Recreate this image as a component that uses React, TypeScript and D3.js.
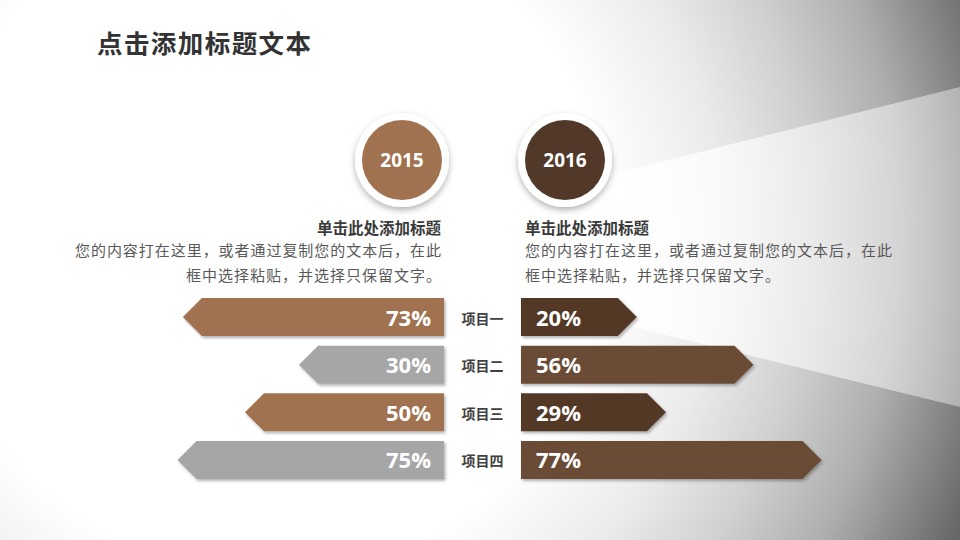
import React from "react";
import * as d3 from "d3";

const categories = ["项目一", "项目二", "项目三", "项目四"];
const years = ["2015", "2016"];
const values2015 = [73, 30, 50, 75];
const values2016 = [20, 56, 29, 77];
const mainTitle = "点击添加标题文本";
const blockTitle = "单击此处添加标题";
const blockLines = ["您的内容打在这里，或者通过复制您的文本后，在此", "框中选择粘贴，并选择只保留文字。"];

const W = 960;
const H = 540;
const leftEdge = 444;
const rightEdge = 521;
const tipDepth = 19;

const leftColors = ["#A07250", "#A6A6A6"];
const rightColors = ["#523828", "#6A4C34"];
const yearColors = ["#A07250", "#523828"];

const CJK = "'Noto Sans CJK SC', 'Microsoft YaHei', sans-serif";
const LAT = "'Open Sans', 'Noto Sans', sans-serif";

export default function App() {
  const y = d3.scaleBand<string>().domain(categories).range([298, 479]).paddingInner(0.2).paddingOuter(0);
  const lenL = d3.scaleLinear().domain([0, 100]).range([64, 334]);
  const lenR = d3.scaleLinear().domain([0, 100]).range([51, 375]);
  const xYear = d3.scalePoint<string>().domain(years).range([402, 565]);
  const line = d3.line();

  const leftPath = (c: string, v: number) => {
    const y0 = y(c)!;
    const y1 = y0 + y.bandwidth();
    const ym = (y0 + y1) / 2;
    const xt = leftEdge - lenL(v);
    const xb = xt + tipDepth;
    return line([[leftEdge, y0], [xb, y0], [xt, ym], [xb, y1], [leftEdge, y1]]) + "Z";
  };
  const rightPath = (c: string, v: number) => {
    const y0 = y(c)!;
    const y1 = y0 + y.bandwidth();
    const ym = (y0 + y1) / 2;
    const xt = rightEdge + lenR(v);
    const xb = xt - tipDepth;
    return line([[rightEdge, y0], [xb, y0], [xt, ym], [xb, y1], [rightEdge, y1]]) + "Z";
  };

  return (
    <div style={{ position: "absolute", left: 0, top: 0, width: W, height: H }}>
      <svg width={W} height={H} viewBox={`0 0 ${W} ${H}`} style={{ display: "block" }}>
        <defs>
          <radialGradient id="bg" gradientUnits="userSpaceOnUse" cx={270} cy={235} r={750}>
            <stop offset="0" stopColor="#ffffff" />
            <stop offset="0.45" stopColor="#ffffff" />
            <stop offset="0.6" stopColor="#ebebeb" />
            <stop offset="0.72" stopColor="#d0d0d0" />
            <stop offset="0.84" stopColor="#aeaeae" />
            <stop offset="1" stopColor="#666666" />
          </radialGradient>
          <linearGradient id="beam" gradientUnits="userSpaceOnUse" x1={600} y1={0} x2={960} y2={0}>
            <stop offset="0" stopColor="#ffffff" stopOpacity={0.95} />
            <stop offset="0.5" stopColor="#ffffff" stopOpacity={0.6} />
            <stop offset="1" stopColor="#ffffff" stopOpacity={0.4} />
          </linearGradient>
          <filter id="barShadow" x="-10%" y="-30%" width="120%" height="170%">
            <feDropShadow dx={1.5} dy={2} stdDeviation={1.5} floodColor="#000" floodOpacity={0.3} />
          </filter>
          <filter id="circShadow" x="-30%" y="-30%" width="160%" height="170%">
            <feDropShadow dx={0} dy={3} stdDeviation={3} floodColor="#000" floodOpacity={0.3} />
          </filter>
        </defs>

        <rect x={0} y={0} width={W} height={H} fill="url(#bg)" />
        <polygon points="600,177 960,87 960,407 600,319" fill="url(#beam)" />

        <text x={97} y={53} fontFamily={CJK} fontWeight={700} fontSize={25.5} fill="#333333" textLength={214} lengthAdjust="spacing">
          {mainTitle}
        </text>

        {years.map((yr, i) => (
          <g key={yr}>
            <circle cx={xYear(yr)} cy={160} r={47} fill="#ffffff" filter="url(#circShadow)" />
            <circle cx={xYear(yr)} cy={160} r={40} fill={yearColors[i]} />
            <text x={xYear(yr)} y={166.5} textAnchor="middle" fontFamily={LAT} fontWeight={700} fontSize={19} fill="#ffffff">
              {yr}
            </text>
          </g>
        ))}

        <g fontFamily={CJK}>
          <text x={441} y={233.5} textAnchor="end" fontWeight={700} fontSize={15.5} fill="#3a3a3a">{blockTitle}</text>
          <text x={441} y={255.5} textAnchor="end" fontSize={15} fill="#595959" textLength={366} lengthAdjust="spacing">{blockLines[0]}</text>
          <text x={441} y={281} textAnchor="end" fontSize={15} fill="#595959" textLength={255} lengthAdjust="spacing">{blockLines[1]}</text>
          <text x={525} y={233.5} fontWeight={700} fontSize={15.5} fill="#3a3a3a">{blockTitle}</text>
          <text x={525} y={255.5} fontSize={15} fill="#595959" textLength={367} lengthAdjust="spacing">{blockLines[0]}</text>
          <text x={525} y={281} fontSize={15} fill="#595959" textLength={255} lengthAdjust="spacing">{blockLines[1]}</text>
        </g>

        {categories.map((c, i) => {
          const ym = y(c)! + y.bandwidth() / 2;
          return (
            <g key={c}>
              <path d={leftPath(c, values2015[i])} fill={leftColors[i % 2]} filter="url(#barShadow)" />
              <path d={rightPath(c, values2016[i])} fill={rightColors[i % 2]} filter="url(#barShadow)" />
              <text x={431} y={ym + 8.5} textAnchor="end" fontFamily={LAT} fontWeight={700} fontSize={22} fill="#ffffff">
                {values2015[i]}%
              </text>
              <text x={536} y={ym + 8.5} fontFamily={LAT} fontWeight={700} fontSize={22} fill="#ffffff">
                {values2016[i]}%
              </text>
              <text x={482.5} y={ym + 6.5} textAnchor="middle" fontFamily={CJK} fontWeight={700} fontSize={14} fill="#404040">
                {c}
              </text>
            </g>
          );
        })}
      </svg>
    </div>
  );
}
